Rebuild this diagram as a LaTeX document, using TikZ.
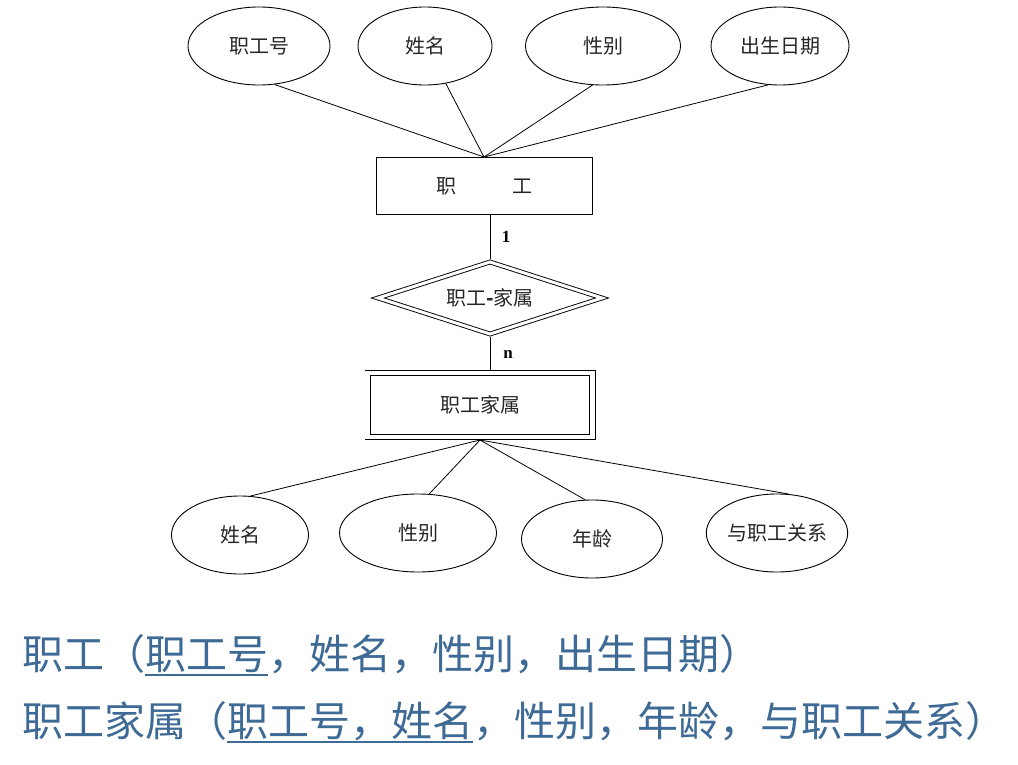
\documentclass[tikz,border=0pt]{standalone}
\usepackage{fontspec}
\setmainfont{Liberation Serif}
\newfontfamily\cjk{Noto Sans CJK SC}
\usetikzlibrary{shapes.geometric}
\definecolor{txtblue}{RGB}{62,106,150}
\newcommand\uln[1]{\setbox0\hbox{#1}\rlap{\rule[-7pt]{\wd0}{1.8pt}}\box0}
\begin{document}
\begin{tikzpicture}[x=1pt,y=-1pt,
  attr/.style={ellipse, draw, line width=0.9pt, minimum height=78pt, inner sep=0pt,
    text=black!85, font=\cjk\fontsize{20}{20}\selectfont},
  ent/.style={rectangle, draw, line width=0.9pt, minimum width=216pt, minimum height=57pt,
    inner sep=0pt, text=black!85, font=\cjk\fontsize{20}{20}\selectfont},
  wkent/.style={rectangle, draw, double, double distance=4.5pt, line width=0.9pt,
    minimum width=224.7pt, minimum height=63.7pt, outer sep=3.15pt, inner sep=0pt,
    text=black!85, font=\cjk\fontsize{20}{20}\selectfont},
  rel/.style={diamond, aspect=2.9, draw, double, double distance=3pt, line width=0.9pt,
    minimum width=226pt, minimum height=74pt, outer sep=2.4pt, inner sep=0pt,
    text=black!85, font=\cjk\fontsize{20}{20}\selectfont},
  conn/.style={line width=0.8pt},
  card/.style={font=\bfseries\fontsize{17}{17}\selectfont, inner sep=0pt},
  note/.style={anchor=west, inner sep=0pt, text=txtblue, font=\cjk\fontsize{41}{41}\selectfont}]
\useasboundingbox (0,0) rectangle (1018,765);

% top attributes
\node[attr, minimum width=142pt] (a1) at (259,46) {职工号};
\node[attr, minimum width=134pt] (a2) at (425,46) {姓名};
\node[attr, minimum width=155pt] (a3) at (603,46) {性别};
\node[attr, minimum width=138pt] (a4) at (780,46) {出生日期};

% entity
\node[ent] (emp) at (484,186) {职\hspace{56pt}工};

% relationship
\node[rel] (rel) at (490,298) {职工{\bfseries -}家属};

% weak entity
\node[wkent] (fam) at (480,405) {职工家属};

% bottom attributes
\node[attr, minimum width=137pt] (b1) at (240,535) {姓名};
\node[attr, minimum width=157pt] (b2) at (418,533) {性别};
\node[attr, minimum width=141pt] (b3) at (592,539) {年龄};
\node[attr, minimum width=138pt] (b4) at (777,533) {与职工关系};

% connectors
\draw[conn] (a1.-68) -- (emp.north);
\draw[conn] (a2.-61) -- (emp.north);
\draw[conn] (a3.-105) -- (emp.north);
\draw[conn] (a4.-107) -- (emp.north);

\draw[conn] (rel.north) -- (rel.north |- emp.south);
\draw[conn] (rel.south) -- (rel.south |- fam.north);

\draw[conn] (fam.south) -- (b1.75);
\draw[conn] (fam.south) -- (b2.74);
\draw[conn] (fam.south) -- (b3.100);
\draw[conn] (fam.south) -- (b4.73);

% cardinalities
\node[card] (c1) at (506,237) {1};
\node[card] (c2) at (508,354) {n};

% relational schemas
\node[note] (s1) at (22,655) {职工（\uln{职工号}，姓名，性别，出生日期）};
\node[note] (s2) at (22,722) {职工家属（\uln{职工号，姓名}，性别，年龄，与职工关系）};
\end{tikzpicture}
\end{document}
